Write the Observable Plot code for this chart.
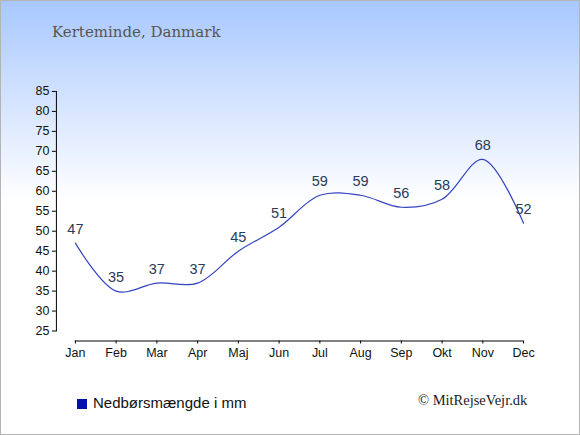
<!DOCTYPE html>
<html>
<head>
<meta charset="utf-8">
<script src="https://cdn.jsdelivr.net/npm/d3@7"></script>
<script src="https://cdn.jsdelivr.net/npm/@observablehq/plot@0.6"></script>
<style>
  html, body { margin: 0; padding: 0; }
  #wrap {
    position: relative; width: 580px; height: 435px; box-sizing: border-box;
    border: 1px solid #b4b4b4; overflow: hidden;
    background: linear-gradient(to bottom, #a8c8ff 0px, #ffffff 200px, #ffffff 435px);
  }
  #title {
    position: absolute; left: 51px; top: 21px; font-family: "DejaVu Serif", serif;
    font-size: 15px; color: #555555; white-space: nowrap; line-height: 20px;
  }
  #chart { position: absolute; left: -1px; top: 59px; }
  #chart svg { background: transparent !important; overflow: visible; }
  #legend {
    position: absolute; left: 76px; top: 394px; font-family: "Liberation Sans", Arial, sans-serif;
    font-size: 15px; color: #111; white-space: nowrap; line-height: 16px;
  }
  #legend .sw { display: inline-block; width: 10px; height: 10px; background: #0011aa; margin-right: 6px; vertical-align: -1px; }
  #credit {
    position: absolute; left: 417px; top: 390px; font-family: "Liberation Serif", serif;
    font-size: 14.5px; color: #222; white-space: nowrap; line-height: 18px;
  }
</style>
</head>
<body>
<div id="wrap">
  <div id="title">Kerteminde, Danmark</div>
  <div id="chart"></div>
  <div id="legend"><span class="sw"></span>Nedbørsmængde i mm</div>
  <div id="credit">© MitRejseVejr.dk</div>
</div>
<script>
const months = ["Jan","Feb","Mar","Apr","Maj","Jun","Jul","Aug","Sep","Okt","Nov","Dec"];
const precip = [47, 35, 37, 37, 45, 51, 59, 59, 56, 58, 68, 52];
const yTicks = [25, 30, 35, 40, 45, 50, 55, 60, 65, 70, 75, 80, 85];

const data = months.map((m, i) => ({month: m, value: precip[i]}));
const baseLine = [{a: months[0], b: months[months.length - 1], y: yTicks[0]}];

const chart = Plot.plot({
  width: 580,
  height: 320,
  marginLeft: 56,
  marginRight: 57,
  marginTop: 31,
  marginBottom: 49,
  style: {background: "transparent", fontFamily: "Liberation Sans, Arial, sans-serif", fontSize: "12px", color: "#111"},
  x: {type: "point", domain: months, range: [75, 524], padding: 0, round: false},
  y: {domain: [yTicks[0], yTicks[yTicks.length - 1]]},
  marks: [
    Plot.frame({anchor: "left", stroke: "#000", strokeOpacity: 1}),
    Plot.axisY({ticks: yTicks, tickSize: 4, tickPadding: 3, fontSize: 12.5, label: null, stroke: "#000"}),
    Plot.ruleY(baseLine, {x1: "a", x2: "b", y: "y", dy: 10, stroke: "#000"}),
    Plot.axisX({tickSize: 3, tickPadding: 4, dy: 10, fontSize: 12.5, label: null, stroke: "#000"}),
    Plot.line(data, {x: "month", y: "value", curve: "catmull-rom", stroke: "#3344c0", strokeWidth: 1.2}),
    Plot.text(data, {x: "month", y: "value", text: d => String(d.value), dy: -14, fontSize: 14.5, fill: "#2a3a58"})
  ]
});
document.getElementById("chart").appendChild(chart);
</script>
</body>
</html>
